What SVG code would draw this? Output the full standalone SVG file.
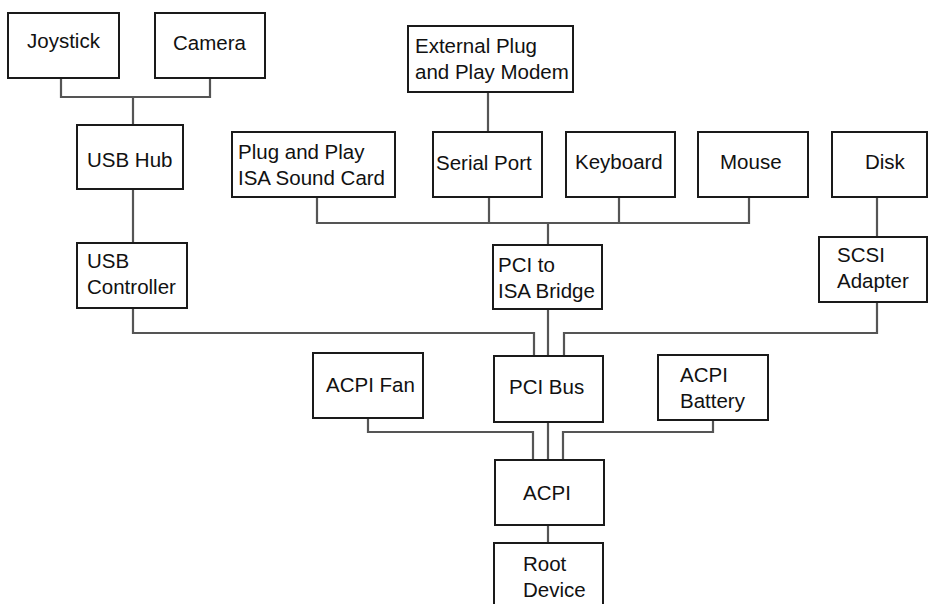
<svg xmlns="http://www.w3.org/2000/svg" width="929" height="604" viewBox="0 0 929 604">
<style>
.box{fill:#fff;stroke:#1a1a1a;stroke-width:2}
.lbl{font-family:"Liberation Sans",Arial,sans-serif;font-size:20.5px;fill:#111}
.con{fill:none;stroke:#555;stroke-width:2.2;stroke-linejoin:miter}
</style>
<rect width="929" height="604" fill="#fff"/>
<g id="connectors">
<path class="con" d="M61,78 V97 H210 V78 M133,97 V125"/>
<path class="con" d="M133,189 V243"/>
<path class="con" d="M488,92 V132"/>
<path class="con" d="M317,197 V223 H749 V197 M489,197 V223 M619,197 V223 M548,223 V245"/>
<path class="con" d="M877,197 V237"/>
<path class="con" d="M133,308 V333 H534 V356"/>
<path class="con" d="M548,309 V356"/>
<path class="con" d="M877,302 V333 H564 V356"/>
<path class="con" d="M368,418 V432 H533 V460"/>
<path class="con" d="M548,422 V460"/>
<path class="con" d="M713,420 V432 H563 V460"/>
<path class="con" d="M548,525 V543"/>
</g>
<g id="joystick"><rect class="box" x="8" y="13" width="111" height="65"/><text class="lbl" x="27" y="48">Joystick</text></g>
<g id="camera"><rect class="box" x="155" y="13" width="110" height="65"/><text class="lbl" x="173" y="50">Camera</text></g>
<g id="usb-hub"><rect class="box" x="77" y="125" width="106" height="64"/><text class="lbl" x="87" y="167">USB Hub</text></g>
<g id="external-modem"><rect class="box" x="408" y="26" width="165" height="66"/><text class="lbl" x="415" y="53">External Plug</text><text class="lbl" x="415" y="79">and Play Modem</text></g>
<g id="isa-sound-card"><rect class="box" x="232" y="132" width="163" height="65"/><text class="lbl" x="238" y="159">Plug and Play</text><text class="lbl" x="238" y="185">ISA Sound Card</text></g>
<g id="serial-port"><rect class="box" x="433" y="132" width="109" height="65"/><text class="lbl" x="436" y="170">Serial Port</text></g>
<g id="keyboard"><rect class="box" x="566" y="132" width="109" height="65"/><text class="lbl" x="575" y="169">Keyboard</text></g>
<g id="mouse"><rect class="box" x="698" y="132" width="110" height="65"/><text class="lbl" x="720" y="169">Mouse</text></g>
<g id="disk"><rect class="box" x="832" y="132" width="95" height="65"/><text class="lbl" x="865" y="169">Disk</text></g>
<g id="usb-controller"><rect class="box" x="77" y="243" width="110" height="65"/><text class="lbl" x="87" y="268">USB</text><text class="lbl" x="87" y="294">Controller</text></g>
<g id="pci-isa-bridge"><rect class="box" x="493" y="245" width="109" height="64"/><text class="lbl" x="498" y="272">PCI to</text><text class="lbl" x="498" y="298">ISA Bridge</text></g>
<g id="scsi-adapter"><rect class="box" x="819" y="237" width="108" height="65"/><text class="lbl" x="837" y="262">SCSI</text><text class="lbl" x="837" y="288">Adapter</text></g>
<g id="acpi-fan"><rect class="box" x="313" y="353" width="110" height="65"/><text class="lbl" x="326" y="392">ACPI Fan</text></g>
<g id="pci-bus"><rect class="box" x="494" y="356" width="109" height="66"/><text class="lbl" x="509" y="394">PCI Bus</text></g>
<g id="acpi-battery"><rect class="box" x="658" y="355" width="110" height="65"/><text class="lbl" x="680" y="382">ACPI</text><text class="lbl" x="680" y="408">Battery</text></g>
<g id="acpi"><rect class="box" x="495" y="460" width="109" height="65"/><text class="lbl" x="523" y="500">ACPI</text></g>
<g id="root-device"><rect class="box" x="494" y="543" width="109" height="70"/><text class="lbl" x="523" y="571">Root</text><text class="lbl" x="523" y="597">Device</text></g>
</svg>
